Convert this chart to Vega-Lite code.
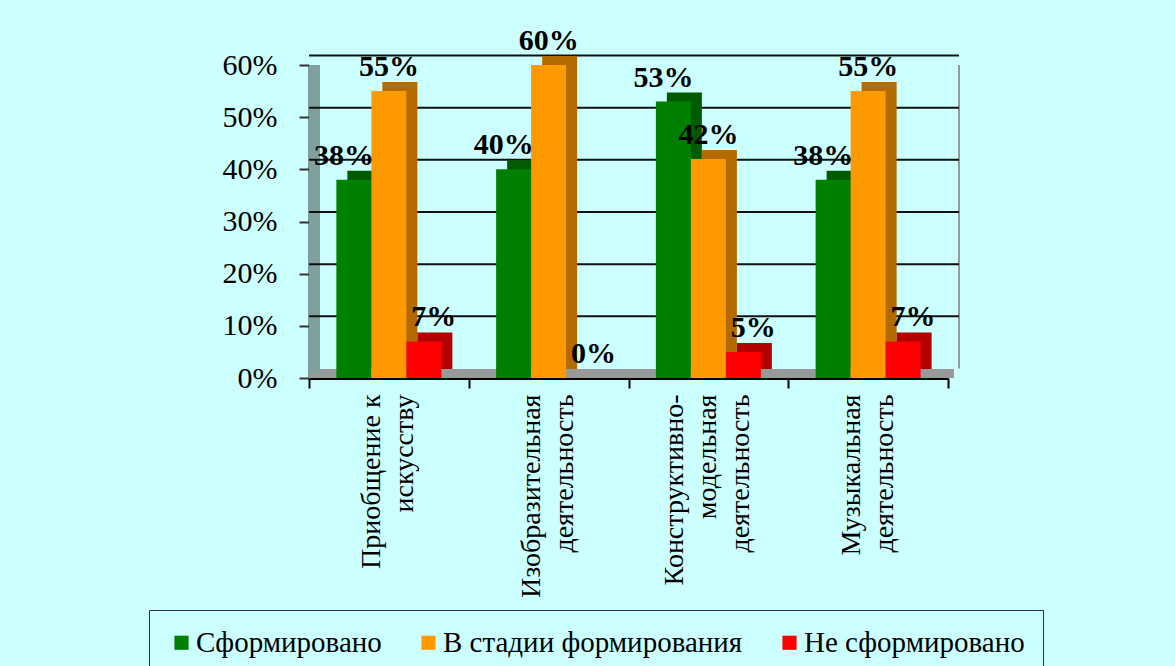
{
  "$schema": "https://vega.github.io/schema/vega-lite/v6.json",
  "autosize": "none",
  "width": 639,
  "height": 313,
  "padding": {"left": 309, "top": 65, "right": 227, "bottom": 288},
  "background": "#CCFFFF",
  "config": {
    "view": {"stroke": null},
    "font": "Liberation Serif"
  },
  "datasets": {
    "scores": [
      {"category": "Приобщение к\nискусству", "series": "Сформировано", "value": 0.38},
      {"category": "Приобщение к\nискусству", "series": "В стадии формирования", "value": 0.55},
      {"category": "Приобщение к\nискусству", "series": "Не сформировано", "value": 0.07},
      {"category": "Изобразительная\nдеятельность", "series": "Сформировано", "value": 0.40},
      {"category": "Изобразительная\nдеятельность", "series": "В стадии формирования", "value": 0.60},
      {"category": "Изобразительная\nдеятельность", "series": "Не сформировано", "value": 0.0},
      {"category": "Конструктивно-\nмодельная\nдеятельность", "series": "Сформировано", "value": 0.53},
      {"category": "Конструктивно-\nмодельная\nдеятельность", "series": "В стадии формирования", "value": 0.42},
      {"category": "Конструктивно-\nмодельная\nдеятельность", "series": "Не сформировано", "value": 0.05},
      {"category": "Музыкальная\nдеятельность", "series": "Сформировано", "value": 0.38},
      {"category": "Музыкальная\nдеятельность", "series": "В стадии формирования", "value": 0.55},
      {"category": "Музыкальная\nдеятельность", "series": "Не сформировано", "value": 0.07}
    ],
    "gridlines": [
      {"level": 0.1}, {"level": 0.2}, {"level": 0.3}, {"level": 0.4}, {"level": 0.5}, {"level": 0.6}
    ]
  },
  "data": {"name": "scores"},
  "resolve": {"scale": {"xOffset": "independent", "color": "independent"}},
  "layer": [
    {
      "data": {"values": [{"wall": "floor"}]},
      "mark": {"type": "rule", "color": "#999999", "strokeWidth": 9, "xOffset": 6, "yOffset": -4.5},
      "encoding": {"y": {"datum": 0, "type": "quantitative"}}
    },
    {
      "data": {"values": [{"wall": "left"}]},
      "mark": {"type": "rule", "color": "#80A0A0", "strokeWidth": 11, "xOffset": 5.5, "yOffset": -5},
      "encoding": {
        "x": {"datum": "Приобщение к\nискусству", "bandPosition": 0},
        "y": {"datum": 0, "type": "quantitative"},
        "y2": {"datum": 0.6}
      }
    },
    {
      "data": {"values": [{"wall": "right"}]},
      "mark": {"type": "rule", "color": "#999999", "strokeWidth": 2, "xOffset": 11, "yOffset": -9.5},
      "encoding": {
        "x": {"datum": "Музыкальная\nдеятельность", "bandPosition": 1},
        "y": {"datum": 0, "type": "quantitative"},
        "y2": {"datum": 0.6}
      }
    },
    {
      "data": {"name": "gridlines"},
      "mark": {"type": "rule", "color": "#111111", "strokeWidth": 2, "xOffset": 11, "yOffset": -9.5},
      "encoding": {"y": {"field": "level", "type": "quantitative"}}
    },
    {
      "mark": {"type": "bar", "yOffset": -9},
      "encoding": {
        "x": {"field": "category", "type": "nominal", "sort": null},
        "xOffset": {
          "field": "series", "type": "nominal", "sort": null,
          "scale": {"range": [11, 170.75], "paddingOuter": 0.782, "paddingInner": 0}
        },
        "y": {"field": "value", "type": "quantitative"},
        "color": {
          "field": "series", "type": "nominal", "legend": null,
          "scale": {
            "domain": ["Сформировано", "В стадии формирования", "Не сформировано"],
            "range": ["#005A00", "#B36B00", "#B30000"]
          }
        }
      }
    },
    {
      "mark": {"type": "bar"},
      "encoding": {
        "x": {
          "field": "category", "type": "nominal", "sort": null,
          "scale": {
            "domain": ["Приобщение к\nискусству", "Изобразительная\nдеятельность", "Конструктивно-\nмодельная\nдеятельность", "Музыкальная\nдеятельность"],
            "paddingInner": 0, "paddingOuter": 0
          },
          "axis": {
            "title": null,
            "labelExpr": "datum.value ? split(datum.value, '\\n') : ''",
            "labelOffset": {"expr": "datum.value ? (length(split(datum.value, '\\n')) - 1) * -17 : 0"},
            "labelAngle": -90,
            "labelFont": "Liberation Serif",
            "labelFontSize": 28,
            "labelColor": "#000000",
            "labelLineHeight": 33,
            "labelPadding": 6,
            "labelLimit": 0,
            "tickBand": "extent",
            "tickSize": 10,
            "tickColor": "#000000",
            "tickWidth": 2,
            "domainColor": "#000000",
            "domainWidth": 3
          }
        },
        "xOffset": {
          "field": "series", "type": "nominal", "sort": null,
          "scale": {"range": [0, 159.75], "paddingOuter": 0.782, "paddingInner": 0}
        },
        "y": {
          "field": "value", "type": "quantitative",
          "scale": {"domain": [0, 0.6], "nice": false},
          "axis": {
            "title": null,
            "values": [0, 0.1, 0.2, 0.3, 0.4, 0.5, 0.6],
            "format": ".0%",
            "grid": false,
            "labelFont": "Liberation Serif",
            "labelFontSize": 30,
            "labelColor": "#000000",
            "labelPadding": 22,
            "tickSize": 10,
            "tickColor": "#333333",
            "tickWidth": 2,
            "domainColor": "#333333",
            "domainWidth": 2
          }
        },
        "color": {
          "field": "series", "type": "nominal",
          "scale": {
            "domain": ["Сформировано", "В стадии формирования", "Не сформировано"],
            "range": ["#008000", "#FF9900", "#FF0000"]
          },
          "legend": {
            "title": null,
            "orient": "none",
            "legendX": -160,
            "legendY": 545,
            "direction": "horizontal",
            "symbolType": "square",
            "symbolSize": 200,
            "symbolStrokeWidth": 0,
            "labelFont": "Liberation Serif",
            "labelFontSize": 29,
            "labelColor": "#000000",
            "labelOffset": 0,
            "labelLimit": 0,
            "columnPadding": 32,
            "padding": 18,
            "strokeColor": "#333333",
            "fillColor": "#CCFFFF"
          }
        }
      }
    },
    {
      "mark": {"type": "text", "font": "Liberation Serif", "fontWeight": "bold", "fontSize": 30, "baseline": "alphabetic", "dy": -15, "color": "#000000"},
      "encoding": {
        "x": {"field": "category", "type": "nominal", "sort": null},
        "xOffset": {
          "field": "series", "type": "nominal", "sort": null,
          "scale": {"range": [0, 159.75], "paddingOuter": 0.782, "paddingInner": 0}
        },
        "y": {"field": "value", "type": "quantitative"},
        "text": {"field": "value", "type": "quantitative", "format": ".0%"}
      }
    }
  ]
}
